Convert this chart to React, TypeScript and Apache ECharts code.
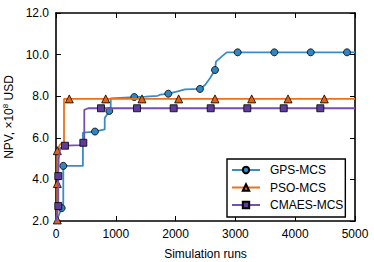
import React, { useEffect, useRef } from "react";
import * as echarts from "echarts";

const seriesNames = ["GPS-MCS", "PSO-MCS", "CMAES-MCS"];
const xTicks = { min: 0, max: 5000, interval: 1000 };
const yTicks = { min: 2, max: 12, interval: 2 };

const gpsPath: number[][] = [
  [0, 2.0], [50, 2.3], [95, 2.62], [122, 2.62], [122, 4.65], [450, 4.65], [450, 6.25],
  [652, 6.3], [700, 6.33], [815, 6.4], [815, 6.95], [891, 7.29], [915, 7.3], [915, 7.9],
  [1309, 7.96], [1500, 7.98], [1700, 8.02], [1750, 8.08], [1878, 8.12], [2018, 8.22],
  [2157, 8.33], [2408, 8.35], [2492, 8.54], [2575, 8.86], [2659, 9.26], [2675, 9.66],
  [2770, 9.9], [2854, 10.11], [5000, 10.11],
];
const gpsMarkers: number[][] = [
  [95, 2.62], [122, 4.65], [652, 6.3], [891, 7.29], [1309, 7.96], [1878, 8.12],
  [2408, 8.35], [2659, 9.26], [3038, 10.11], [3651, 10.11], [4259, 10.11], [4866, 10.11],
];

const psoPath: number[][] = [
  [0, 2.05], [22, 2.05], [22, 3.8], [22, 5.38], [60, 5.65], [100, 5.75], [134, 5.75],
  [134, 7.87], [5000, 7.87],
];
const psoMarkers: number[][] = [
  [22, 2.05], [22, 3.8], [22, 5.38], [222, 7.87], [831, 7.87], [1438, 7.87], [2051, 7.87],
  [2659, 7.87], [3272, 7.87], [3880, 7.87], [4487, 7.87],
];

const cmaesPath: number[][] = [
  [0, 2.0], [38, 2.72], [38, 4.16], [45, 5.0], [70, 5.5], [150, 5.62], [430, 5.65],
  [457, 5.76], [473, 5.8], [473, 7.34], [540, 7.42], [5000, 7.42],
];
const cmaesMarkers: number[][] = [
  [38, 2.72], [38, 4.16], [150, 5.62], [457, 5.76], [752, 7.42], [1355, 7.42], [1968, 7.42],
  [2587, 7.42], [3199, 7.42], [3808, 7.42], [4420, 7.42],
];

const FONT = "'Liberation Sans', Arial, Helvetica, sans-serif";

export default function App() {
  const ref = useRef<HTMLDivElement>(null);
  useEffect(() => {
    if (!ref.current) return;
    const chart = echarts.init(ref.current, undefined, { renderer: "svg" });
    const styles = [
      { line: "#3a8cc4", fill: "#2f86c0", symbol: "circle", size: 7 },
      { line: "#ec7219", fill: "#e3620f", symbol: "triangle", size: 8 },
      { line: "#7650ae", fill: "#5e3c99", symbol: "rect", size: 7 },
    ];
    const paths = [gpsPath, psoPath, cmaesPath];
    const markers = [gpsMarkers, psoMarkers, cmaesMarkers];
    const series: any[] = [];
    seriesNames.forEach((name, i) => {
      const s = styles[i];
      series.push({
        name,
        type: "line",
        data: paths[i],
        symbol: s.symbol,
        symbolSize: s.size,
        showSymbol: false,
        lineStyle: { color: s.line, width: 1.8 },
        itemStyle: { color: s.fill, borderColor: "#000", borderWidth: 0.8 },
        z: 2 + i,
      });
      series.push({
        name,
        type: "scatter",
        data: markers[i],
        symbol: s.symbol,
        symbolSize: s.size,
        clip: false,
        itemStyle: { color: s.fill, borderColor: "#000", borderWidth: 0.8, opacity: 1 },
        z: 2 + i,
      });
    });
    const axisCommon = {
      axisLine: { show: true, onZero: false, lineStyle: { color: "#000", width: 1.6 } },
      axisTick: { show: true, inside: true, length: 5, lineStyle: { color: "#000", width: 1 } },
      splitLine: { show: false },
    };
    chart.setOption({
      animation: false,
      textStyle: { fontFamily: FONT },
      grid: { left: 56, right: 19, top: 13, bottom: 41, containLabel: false, outerBoundsMode: "none" },
      legend: {
        data: seriesNames,
        orient: "vertical",
        left: 227,
        top: 159,
        itemWidth: 28,
        itemHeight: 8,
        itemGap: 3.5,
        padding: [4, 2, 5, 4],
        borderColor: "#000",
        borderWidth: 1.4,
        borderRadius: 0,
        backgroundColor: "#fff",
        textStyle: { fontSize: 12, color: "#000", fontFamily: FONT, padding: [0, 0, 0, 5], lineHeight: 14 },
      },
      xAxis: [
        {
          type: "value",
          ...xTicks,
          position: "bottom",
          ...axisCommon,
          axisLabel: { fontSize: 12, color: "#000", margin: 7, fontFamily: FONT, formatter: (v: number) => String(v) },
          name: "Simulation runs",
          nameLocation: "middle",
          nameGap: 27,
          nameTextStyle: { fontSize: 12, color: "#000", fontFamily: FONT },
        },
        {
          type: "value",
          ...xTicks,
          position: "top",
          ...axisCommon,
          axisLabel: { show: false },
        },
      ],
      yAxis: [
        {
          type: "value",
          ...yTicks,
          position: "left",
          ...axisCommon,
          axisLabel: { fontSize: 12, color: "#000", margin: 7, fontFamily: FONT, formatter: (v: number) => v.toFixed(1) },
          name: "NPV, ×10{sup|8} USD",
          nameLocation: "middle",
          nameGap: 36,
          nameTextStyle: {
            fontSize: 12,
            color: "#000",
            fontFamily: FONT,
            rich: { sup: { fontSize: 8, fontFamily: FONT, color: "#000", padding: [0, 0, 6, 0] } },
          },
        },
        {
          type: "value",
          ...yTicks,
          position: "right",
          ...axisCommon,
          axisLabel: { show: false },
        },
      ],
      series,
    });
    return () => chart.dispose();
  }, []);
  return <div ref={ref} style={{ width: 374, height: 262, position: "absolute", left: 0, top: 0, background: "#fff" }} />;
}
